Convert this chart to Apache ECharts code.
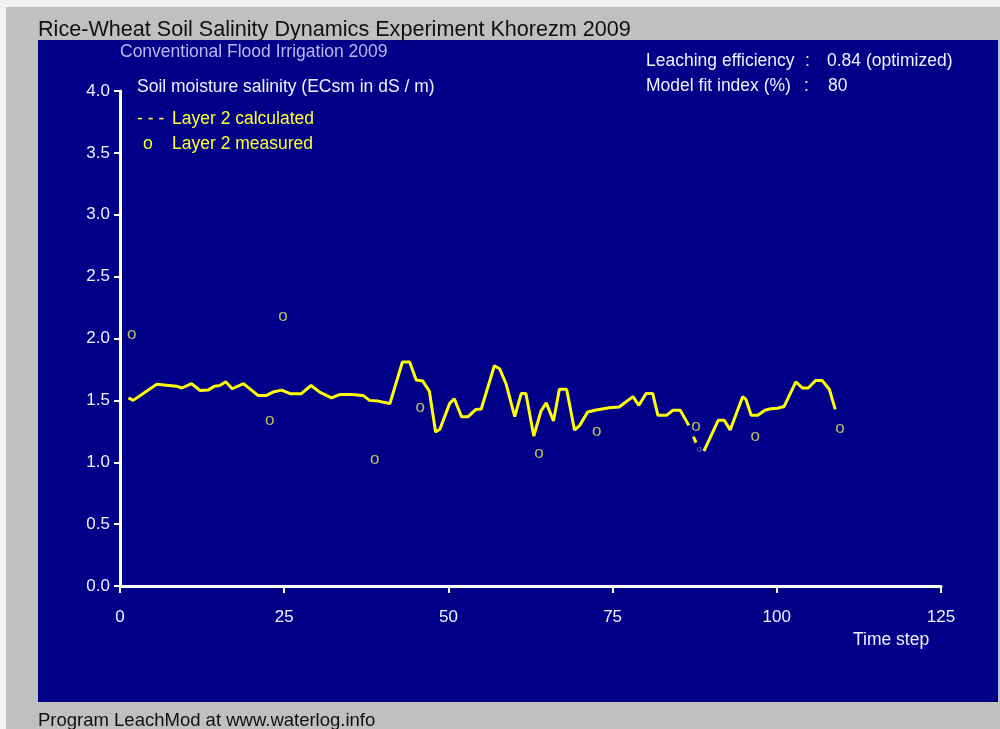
<!DOCTYPE html>
<html>
<head>
<meta charset="utf-8">
<script src="https://cdn.jsdelivr.net/npm/echarts@6/dist/echarts.min.js"></script>
<style>
html,body{margin:0;padding:0;background:#c0c0c0;}
#main{width:1000px;height:729px;}
</style>
</head>
<body>
<div id="main"></div>
<script>
// Layer 2 calculated (time step, ECsm); null marks a gap in the line
const calcT = [1.3,2.0,5.6,8.6,9.4,10.9,12.2,13.4,14.4,15.2,16.1,17.1,18.8,21.0,22.3,23.3,24.6,25.9,27.6,29.1,30.4,32.2,33.5,35.3,37.0,38.0,39.3,41.1,43.0,44.1,45.1,46.1,47.1,48.05,48.7,50.2,50.9,52.0,53.0,54.2,55.0,57.0,57.8,58.8,60.1,61.1,61.8,63.0,64.1,64.9,66.0,66.9,68.0,69.2,70.0,71.2,72.5,74.5,76.0,78.1,79.0,80.1,81.1,81.9,83.2,84.2,85.3,86.6,87.0,87.3,87.7,88.3,88.9,91.1,92.0,92.9,94.8,95.3,96.1,97.1,98.2,99.1,100.1,101.1,102.9,103.9,104.8,105.9,106.9,108.0,108.9];
const calcV = [1.52,1.50,1.63,1.615,1.60,1.635,1.58,1.583,1.615,1.62,1.65,1.594,1.635,1.54,1.54,1.567,1.583,1.554,1.554,1.62,1.567,1.52,1.548,1.548,1.54,1.50,1.494,1.475,1.81,1.81,1.664,1.656,1.575,1.245,1.266,1.476,1.513,1.368,1.368,1.427,1.43,1.78,1.756,1.63,1.368,1.556,1.556,1.212,1.414,1.48,1.333,1.59,1.59,1.26,1.298,1.406,1.422,1.44,1.446,1.53,1.46,1.556,1.556,1.379,1.379,1.42,1.42,1.298,null,1.207,1.159,null,1.09,1.34,1.34,1.26,1.53,1.508,1.38,1.38,1.42,1.433,1.436,1.45,1.65,1.60,1.60,1.661,1.661,1.59,1.427];
// Layer 2 measured
const measT = [1.8,24.8,22.8,38.8,45.7,63.8,72.6,87.7,96.7,109.6];
const measV = [2.04,2.19,1.35,1.03,1.454,1.083,1.26,1.298,1.218,1.285];
// small faint point
const faintT = [88.2];
const faintV = [1.105];

const xTicks = [0,25,50,75,100,125];
const yTicks = [0.0,0.5,1.0,1.5,2.0,2.5,3.0,3.5,4.0];

const FONT = '"Liberation Sans", Arial, sans-serif';
const zip = (a,b) => a.map((t,i)=>[t,b[i]]);

const chart = echarts.init(document.getElementById('main'), null, {renderer:'canvas'});
function txt(text,x,y,size,color,align){
  return {type:'text', z:-1, style:{text:text,x:x,y:y,fill:color,font:size+'px '+FONT,textAlign:align||'left',textVerticalAlign:'middle',align:align||'left',verticalAlign:'middle'}};
}
const WH = '#f0f0ff', YL = '#ffff30';
chart.setOption({
  backgroundColor:'#c0c0c0',
  animation:false,
  graphic:[
    {type:'rect', z:-5, shape:{x:0,y:0,width:1000,height:7}, style:{fill:'#f2f2f2'}},
    {type:'rect', z:-5, shape:{x:0,y:0,width:6,height:729}, style:{fill:'#f2f2f2'}},
    {type:'rect', z:-4, shape:{x:38,y:40,width:960,height:662}, style:{fill:'#000088'}},
    txt('Rice-Wheat Soil Salinity Dynamics Experiment Khorezm 2009',38,30,21.6,'#101010'),
    txt('Conventional Flood Irrigation 2009',120,52,17.5,'#b8b8f0'),
    txt('Soil moisture salinity (ECsm in dS / m)',137,87,17.5,WH),
    txt('- - -',137,119,17.5,YL),
    txt('Layer 2 calculated',172,119,17.5,YL),
    txt('o',143,144,17.5,YL),
    txt('Layer 2 measured',172,144,17.5,YL),
    txt('Leaching efficiency',646,61,17.5,WH),
    txt(':',805,61,17.5,WH),
    txt('0.84 (optimized)',827,61,17.5,WH),
    txt('Model fit index (%)',646,86,17.5,WH),
    txt(':',804,86,17.5,WH),
    txt('80',828,86,17.5,WH),
    txt('Time step',853,640,17.5,WH),
    txt('Program LeachMod at www.waterlog.info',38,721,18.5,'#101010')
  ],
  grid:{left:120,right:59,top:91,bottom:143,containLabel:false},
  xAxis:{
    type:'value', min:0, max:125, interval:25,
    axisLine:{show:true,lineStyle:{color:'#ffffff',width:3}},
    axisTick:{show:true,length:7,lineStyle:{color:'#ffffff',width:2}},
    splitLine:{show:false},
    axisLabel:{color:WH,fontSize:17,fontFamily:FONT,margin:23,
      formatter:v=>xTicks.indexOf(v)>=0?String(v):''}
  },
  yAxis:{
    type:'value', min:0, max:4, interval:0.5,
    axisLine:{show:true,lineStyle:{color:'#ffffff',width:3}},
    axisTick:{show:true,length:6,lineStyle:{color:'#ffffff',width:2}},
    splitLine:{show:false},
    axisLabel:{color:WH,fontSize:17,fontFamily:FONT,margin:10,
      formatter:v=>{const i=yTicks.findIndex(t=>Math.abs(t-v)<1e-9);return i>=0?yTicks[i].toFixed(1):'';}}
  },
  series:[
    {type:'line', name:'Layer 2 calculated', data:zip(calcT,calcV), showSymbol:false, connectNulls:false,
      lineStyle:{color:'#ffff00',width:3}, itemStyle:{color:'#ffff00'}, z:3},
    {type:'scatter', name:'Layer 2 measured', data:zip(measT,measV), symbol:'circle', symbolSize:2,
      itemStyle:{color:'rgba(0,0,0,0)'},
      label:{show:true,position:'inside',formatter:'o',color:'#e8e850',fontSize:17,fontFamily:FONT,offset:[0,1]}, z:4},
    {type:'scatter', name:'faint', data:zip(faintT,faintV), symbol:'circle', symbolSize:2,
      itemStyle:{color:'rgba(0,0,0,0)'},
      label:{show:true,position:'inside',formatter:'o',color:'#9090b0',fontSize:9,fontFamily:FONT}, z:4}
  ]
});
</script>
</body>
</html>
